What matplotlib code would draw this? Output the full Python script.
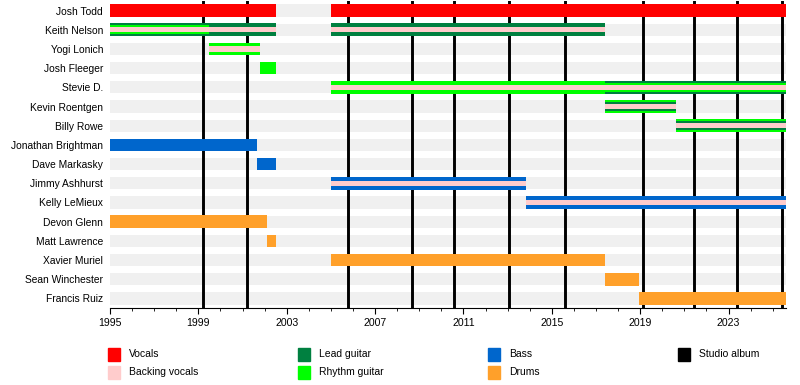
"""
Buckcherry line-up timeline, drawn in the Wikipedia EasyTimeline style.
"""

import matplotlib
matplotlib.use("Agg")
import matplotlib.pyplot as plt
from matplotlib.patches import Rectangle

plt.rcParams["font.family"] = ["Liberation Sans", "DejaVu Sans"]

START = 1995.0
END = 2025.6

members = [
    "Josh Todd", "Keith Nelson", "Yogi Lonich", "Josh Fleeger", "Stevie D.",
    "Kevin Roentgen", "Billy Rowe", "Jonathan Brightman", "Dave Markasky",
    "Jimmy Ashhurst", "Kelly LeMieux", "Devon Glenn", "Matt Lawrence",
    "Xavier Muriel", "Sean Winchester", "Francis Ruiz",
]

role_colors = {
    "Vocals": "#ff0000",
    "Backing vocals": "#ffcccc",
    "Lead guitar": "#008040",
    "Rhythm guitar": "#00ff00",
    "Bass": "#0066cc",
    "Drums": "#ffa02a",
    "Studio album": "#000000",
}

# main role: full-height bars
main_bars = [
    ("Josh Todd", 1995.0, 2002.5, "Vocals"),
    ("Josh Todd", 2005.0, END, "Vocals"),
    ("Keith Nelson", 1995.0, 2002.5, "Lead guitar"),
    ("Keith Nelson", 2005.0, 2017.4, "Lead guitar"),
    ("Yogi Lonich", 1999.5, 2001.8, "Rhythm guitar"),
    ("Josh Fleeger", 2001.8, 2002.5, "Rhythm guitar"),
    ("Stevie D.", 2005.0, 2017.4, "Rhythm guitar"),
    ("Stevie D.", 2017.4, END, "Lead guitar"),
    ("Kevin Roentgen", 2017.4, 2020.6, "Rhythm guitar"),
    ("Billy Rowe", 2020.6, END, "Rhythm guitar"),
    ("Jonathan Brightman", 1995.0, 2001.65, "Bass"),
    ("Dave Markasky", 2001.65, 2002.5, "Bass"),
    ("Jimmy Ashhurst", 2005.0, 2013.85, "Bass"),
    ("Kelly LeMieux", 2013.85, END, "Bass"),
    ("Devon Glenn", 1995.0, 2002.1, "Drums"),
    ("Matt Lawrence", 2002.1, 2002.5, "Drums"),
    ("Xavier Muriel", 2005.0, 2017.4, "Drums"),
    ("Sean Winchester", 2017.4, 2018.95, "Drums"),
    ("Francis Ruiz", 2018.95, END, "Drums"),
]

# second role: narrower bars on top
second_bars = [
    ("Keith Nelson", 1995.0, 1999.5, "Rhythm guitar"),
    ("Stevie D.", 2017.4, END, "Rhythm guitar"),
    ("Kevin Roentgen", 2017.4, 2020.6, "Lead guitar"),
    ("Billy Rowe", 2020.6, END, "Lead guitar"),
]

# backing vocals: thin stripes
thin_bars = [
    ("Keith Nelson", 1995.0, 2002.5, "Backing vocals"),
    ("Keith Nelson", 2005.0, 2017.4, "Backing vocals"),
    ("Yogi Lonich", 1999.5, 2001.8, "Backing vocals"),
    ("Stevie D.", 2005.0, END, "Backing vocals"),
    ("Kevin Roentgen", 2017.4, 2020.6, "Backing vocals"),
    ("Billy Rowe", 2020.6, END, "Backing vocals"),
    ("Jimmy Ashhurst", 2005.0, 2013.85, "Backing vocals"),
    ("Kelly LeMieux", 2013.85, END, "Backing vocals"),
]

album_dates = [1999.2, 2001.2, 2005.78, 2008.68, 2010.55, 2013.07,
               2015.6, 2019.14, 2021.45, 2023.4, 2025.4]

tick_years = list(range(1995, 2026, 4))

legend_columns = [
    ["Vocals", "Backing vocals"],
    ["Lead guitar", "Rhythm guitar"],
    ["Bass", "Drums"],
    ["Studio album"],
]

W, H = 800, 385
fig = plt.figure(figsize=(W / 100, H / 100), dpi=100)
ax = fig.add_axes([110 / W, 77 / H, 676 / W, 307 / H])

row = {name: i for i, name in enumerate(members)}


def draw(bars, height, z):
    for name, x0, x1, role in bars:
        ax.barh(row[name], x1 - x0, left=x0, height=height,
                color=role_colors[role], linewidth=0, zorder=z)


# grey background bands
ax.barh(range(len(members)), END - START, left=START, height=0.64,
        color="#f0f0f0", linewidth=0, zorder=0)

for d in album_dates:
    ax.axvline(d, color=role_colors["Studio album"], lw=2.1, zorder=1)

draw(main_bars, 0.66, 2)
draw(second_bars, 0.46, 3)
draw(thin_bars, 0.27, 4)

ax.set_xlim(START, END)
ax.set_ylim(len(members) - 0.5, -0.5)
ax.set_yticks(range(len(members)))
ax.set_yticklabels(members, fontsize=7.4)
ax.tick_params(axis="y", length=0, pad=5)
ax.set_xticks(tick_years)
ax.set_xticks(range(1995, 2026), minor=True)
ax.tick_params(axis="x", which="major", length=4, labelsize=7.6, pad=3)
ax.tick_params(axis="x", which="minor", length=2)
for s in ["top", "left", "right"]:
    ax.spines[s].set_visible(False)
ax.spines["bottom"].set_linewidth(0.8)

# legend laid out like EasyTimeline
col_x = [108, 298, 488, 678]
row_y = [354, 372]
for cx, labels in zip(col_x, legend_columns):
    for ry, label in zip(row_y, labels):
        fig.patches.append(Rectangle((cx / W, (H - ry - 6.5) / H), 12 / W, 13 / H,
                                     color=role_colors[label],
                                     transform=fig.transFigure, figure=fig))
        fig.text((cx + 21) / W, (H - ry) / H, label, fontsize=7.5, va="center")

fig.savefig("out.png", dpi=100)
